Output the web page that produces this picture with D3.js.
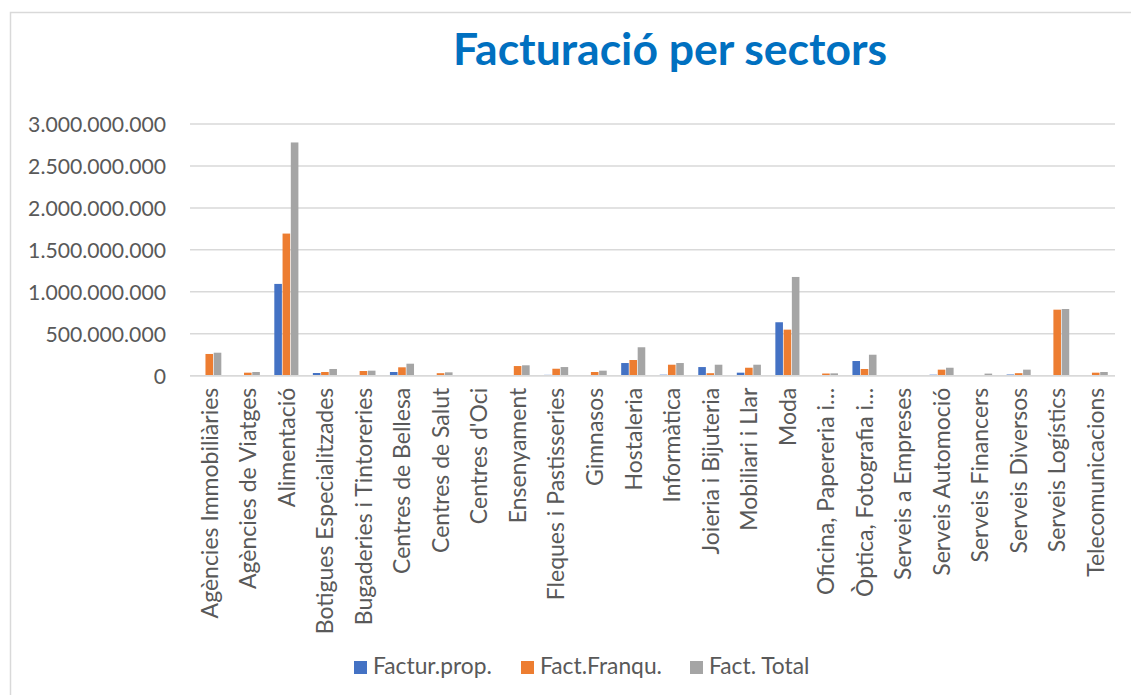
<!DOCTYPE html>
<html>
<head>
<meta charset="utf-8">
<script src="https://cdn.jsdelivr.net/npm/d3@7"></script>
<style>
  html, body { margin: 0; padding: 0; background: #fff; }
  svg { display: block; }
  text { font-family: Lato, "Noto Sans", sans-serif; }
</style>
</head>
<body>
<svg id="chart" width="1131" height="695"></svg>
<script>
const categories = [
  "Agències Immobiliàries", "Agències de Viatges", "Alimentació", "Botigues Especialitzades",
  "Bugaderies i Tintoreries", "Centres de Bellesa", "Centres de Salut", "Centres d'Oci",
  "Ensenyament", "Fleques i Pastisseries", "Gimnasos", "Hostaleria", "Informàtica",
  "Joieria i Bijuteria", "Mobiliari i Llar", "Moda", "Oficina, Papereria i…",
  "Òptica, Fotografia i…", "Serveis a Empreses", "Serveis Automoció", "Serveis Financers",
  "Serveis Diversos", "Serveis Logístics", "Telecomunicacions"
];
const seriesNames = ["Factur.prop.", "Fact.Franqu.", "Fact. Total"];
const facturProp = [5e6, 5e6, 1094e6, 32e6, 0, 44e6, 8e6, 0, 5e6, 10e6, 5e6, 151e6, 12e6,
  103e6, 36e6, 637e6, 0, 175e6, 0, 12e6, 0, 14e6, 0, 0];
const factFranqu = [259e6, 36e6, 1694e6, 44e6, 56e6, 100e6, 30e6, 0, 115e6, 83e6, 44e6, 187e6, 131e6,
  30e6, 95e6, 549e6, 26e6, 80e6, 8e6, 72e6, 8e6, 30e6, 787e6, 36e6];
const factTotal = [274e6, 44e6, 2780e6, 80e6, 60e6, 143e6, 40e6, 0, 124e6, 103e6, 60e6, 339e6, 151e6,
  131e6, 131e6, 1177e6, 28e6, 250e6, 8e6, 95e6, 25e6, 72e6, 795e6, 44e6];
const yTicks = [0, 500e6, 1000e6, 1500e6, 2000e6, 2500e6, 3000e6];
const colors = ["#4472C4", "#ED7D31", "#A5A5A5"];

const svg = d3.select("#chart");
const textColor = "#595959";

// chart border
svg.append("path").attr("d", "M10.5,695 V12.5 H1131")
  .attr("fill", "none").attr("stroke", "#d9d9d9").attr("stroke-width", 1.5);

const plot = { left: 190, right: 1115, top: 124, bottom: 375.7 };
const x = d3.scaleBand().domain(categories).range([plot.left, plot.right]).paddingInner(0.375).paddingOuter(0.1875);
const xs = d3.scaleBand().domain(seriesNames).range([0, x.bandwidth()]).paddingInner(0.08);
const y = d3.scaleLinear().domain([0, 3000e6]).range([plot.bottom, plot.top]);

const locale = d3.formatLocale({ decimal: ",", thousands: ".", grouping: [3], currency: ["", "€"] });
const fmt = locale.format(",");

// gridlines
svg.append("g").selectAll("line").data(yTicks).join("line")
  .attr("x1", plot.left).attr("x2", plot.right)
  .attr("y1", d => y(d)).attr("y2", d => y(d))
  .attr("stroke", "#d9d9d9").attr("stroke-width", 1.5);

// y labels
const yAxis = svg.append("g").attr("transform", `translate(${plot.left - 24},0)`)
  .call(d3.axisLeft(y).tickValues(yTicks).tickFormat(fmt).tickSize(0).tickPadding(0));
yAxis.select(".domain").remove();
yAxis.selectAll("text").attr("fill", textColor).attr("font-size", 21.2)
  .attr("font-family", "Lato, 'Noto Sans', sans-serif").attr("dy", "0.36em");

// bars
const data = categories.map((c, i) => ({ c, vals: [facturProp[i], factFranqu[i], factTotal[i]] }));
const groups = svg.append("g").selectAll("g").data(data).join("g")
  .attr("transform", d => `translate(${x(d.c)},0)`);
groups.selectAll("rect").data(d => d.vals.map((v, k) => ({ v, k }))).join("rect")
  .attr("x", d => xs(seriesNames[d.k]))
  .attr("width", xs.bandwidth())
  .attr("y", d => y(d.v))
  .attr("height", d => y(0) - y(d.v))
  .attr("fill", d => colors[d.k]);

// axis baseline
svg.append("line").attr("x1", plot.left).attr("x2", plot.right)
  .attr("y1", y(0)).attr("y2", y(0)).attr("stroke", "#d9d9d9").attr("stroke-width", 1.5);

// x labels
const xAxis = svg.append("g").attr("transform", `translate(0,${plot.bottom})`)
  .call(d3.axisBottom(x).tickSize(0).tickPadding(0));
xAxis.select(".domain").remove();
xAxis.selectAll("text")
  .attr("fill", textColor).attr("font-size", 23)
  .attr("font-family", "Lato, 'Noto Sans', sans-serif")
  .attr("text-anchor", "end")
  .attr("transform", "rotate(-90)")
  .attr("x", -12).attr("y", 0).attr("dy", "0.36em");

// title
svg.append("text").attr("x", 670).attr("y", 65).attr("text-anchor", "middle")
  .attr("font-size", 44.5).attr("font-weight", "bold").attr("fill", "#0070C0")
  .text("Facturació per sectors");

// legend
const legendX = [354, 521, 690];
const leg = svg.append("g").selectAll("g").data(seriesNames).join("g")
  .attr("transform", (d, i) => `translate(${legendX[i]},0)`);
leg.append("rect").attr("x", 0).attr("y", 661).attr("width", 13).attr("height", 13)
  .attr("fill", (d, i) => colors[i]);
leg.append("text").attr("x", 19).attr("y", 674).attr("font-size", 22.8)
  .attr("fill", textColor).text(d => d);
</script>
</body>
</html>
